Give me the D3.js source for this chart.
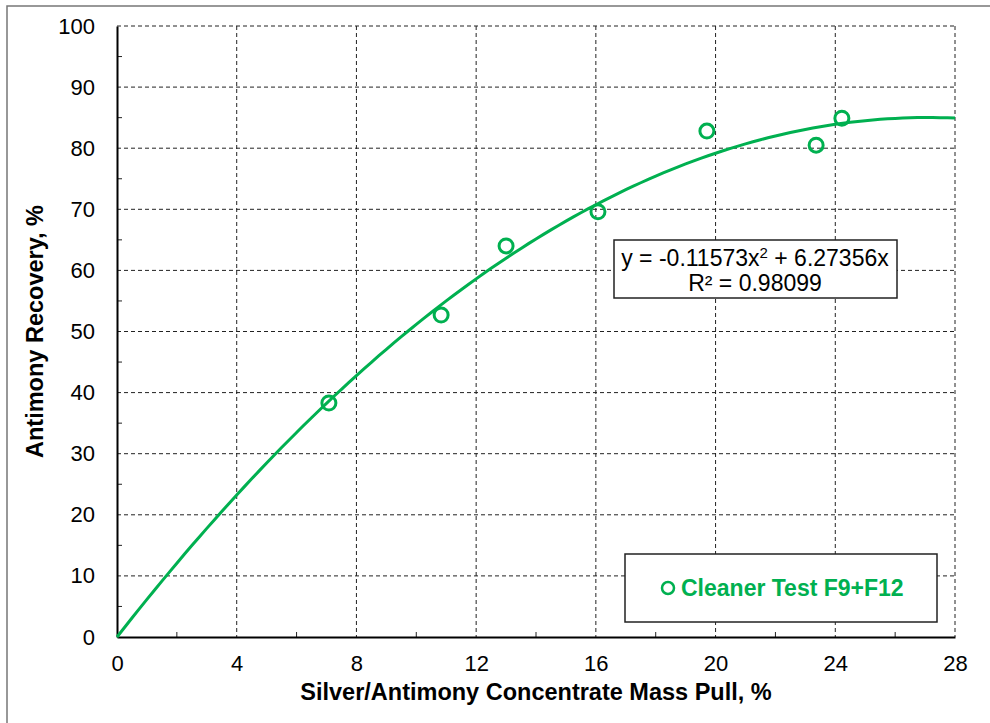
<!DOCTYPE html>
<html>
<head>
<meta charset="utf-8">
<script src="https://d3js.org/d3.v7.min.js"></script>
<style>
  body { margin: 0; background: #fff; }
  text { font-family: "Liberation Sans", Arial, sans-serif; }
</style>
</head>
<body>
<div id="chart"></div>
<script>
var massPull = [7.08, 10.83, 13.0, 16.07, 19.71, 23.36, 24.22];
var recovery = [38.3, 52.7, 64.0, 69.6, 82.8, 80.5, 84.9];
var xTicks = [0, 4, 8, 12, 16, 20, 24, 28];
var yTicks = [0, 10, 20, 30, 40, 50, 60, 70, 80, 90, 100];
var coefA = -0.11573, coefB = 6.27356;
var seriesName = "Cleaner Test F9+F12";
var green = "#00B050";

var svgWidth = 990, svgHeight = 723;
var margin = { top: 26, right: 35, bottom: 86, left: 117 };
var width = svgWidth - margin.left - margin.right;
var height = svgHeight - margin.top - margin.bottom;

var svg = d3.select("#chart").append("svg")
  .attr("width", svgWidth)
  .attr("height", svgHeight);

// outer frame
svg.append("rect")
  .attr("x", 7).attr("y", 6)
  .attr("width", 1000).attr("height", 800)
  .attr("fill", "none").attr("stroke", "#777").attr("stroke-width", 1.5);

var g = svg.append("g")
  .attr("transform", "translate(" + margin.left + "," + margin.top + ")");

var x = d3.scaleLinear().domain([0, 28]).range([0, width]);
var y = d3.scaleLinear().domain([0, 100]).range([height, 0]);

// grid lines
g.append("g").selectAll("line")
  .data(xTicks.slice(1))
  .enter().append("line")
  .attr("x1", d => x(d)).attr("x2", d => x(d))
  .attr("y1", 0).attr("y2", height)
  .attr("stroke", "#222").attr("stroke-width", 1)
  .attr("stroke-dasharray", "4,3");

g.append("g").selectAll("line")
  .data(yTicks.slice(1))
  .enter().append("line")
  .attr("x1", 0).attr("x2", width)
  .attr("y1", d => y(d)).attr("y2", d => y(d))
  .attr("stroke", "#222").attr("stroke-width", 1)
  .attr("stroke-dasharray", "4,3");

// minor ticks
g.append("g").selectAll("line")
  .data(d3.range(2, 28, 4))
  .enter().append("line")
  .attr("x1", d => x(d)).attr("x2", d => x(d))
  .attr("y1", height).attr("y2", height - 5)
  .attr("stroke", "#222");

g.append("g").selectAll("line")
  .data(d3.range(5, 100, 10))
  .enter().append("line")
  .attr("x1", 0).attr("x2", 5)
  .attr("y1", d => y(d)).attr("y2", d => y(d))
  .attr("stroke", "#222");

// axes
var xAxis = g.append("g")
  .attr("transform", "translate(0," + height + ")")
  .call(d3.axisBottom(x).tickValues(xTicks).tickSize(0).tickPadding(18));
xAxis.select(".domain").attr("stroke", "#000").attr("stroke-width", 2);
xAxis.selectAll("text").attr("font-size", 22).attr("fill", "#000")
  .style("font-family", "Liberation Sans, Arial, sans-serif");

var yAxis = g.append("g")
  .call(d3.axisLeft(y).tickValues(yTicks).tickSize(0).tickPadding(22));
yAxis.select(".domain").attr("stroke", "#000").attr("stroke-width", 2);
yAxis.selectAll("text").attr("font-size", 22).attr("fill", "#000")
  .style("font-family", "Liberation Sans, Arial, sans-serif");

// trend line
var curveX = d3.range(0, 28.01, 0.25);
var line = d3.line()
  .x(d => x(d))
  .y(d => y(coefA * d * d + coefB * d));
g.append("path")
  .datum(curveX)
  .attr("d", line)
  .attr("fill", "none")
  .attr("stroke", green)
  .attr("stroke-width", 3);

// points
g.append("g").selectAll("circle")
  .data(massPull)
  .enter().append("circle")
  .attr("cx", d => x(d))
  .attr("cy", (d, i) => y(recovery[i]))
  .attr("r", 7)
  .attr("fill", "none")
  .attr("stroke", green)
  .attr("stroke-width", 3);

// equation box
svg.append("rect")
  .attr("x", 614).attr("y", 240)
  .attr("width", 283).attr("height", 58)
  .attr("fill", "#fff").attr("stroke", "#222").attr("stroke-width", 1.5);
var eq = svg.append("text")
  .attr("x", 755).attr("y", 266)
  .attr("text-anchor", "middle")
  .attr("font-size", 23).attr("fill", "#000");
eq.append("tspan").text("y = " + coefA + "x");
eq.append("tspan").attr("dy", -8).attr("font-size", 15).text("2");
eq.append("tspan").attr("dy", 8).text(" + " + coefB + "x");
svg.append("text")
  .attr("x", 755).attr("y", 291)
  .attr("text-anchor", "middle")
  .attr("font-size", 23).attr("fill", "#000")
  .text("R² = 0.98099");

// legend
svg.append("rect")
  .attr("x", 625).attr("y", 554)
  .attr("width", 312).attr("height", 68)
  .attr("fill", "#fff").attr("stroke", "#222").attr("stroke-width", 1.5);
svg.append("circle")
  .attr("cx", 668).attr("cy", 588).attr("r", 6)
  .attr("fill", "none").attr("stroke", green).attr("stroke-width", 2.5);
svg.append("text")
  .attr("x", 681).attr("y", 596)
  .attr("font-size", 23).attr("font-weight", "bold").attr("fill", green)
  .text(seriesName);

// axis titles
svg.append("text")
  .attr("x", 536).attr("y", 700)
  .attr("text-anchor", "middle")
  .attr("font-size", 23.5).attr("font-weight", "bold")
  .text("Silver/Antimony Concentrate Mass Pull, %");

svg.append("text")
  .attr("transform", "translate(43," + (margin.top + height / 2) + ") rotate(-90)")
  .attr("text-anchor", "middle")
  .attr("font-size", 23.5).attr("font-weight", "bold")
  .text("Antimony Recovery, %");
</script>
</body>
</html>
